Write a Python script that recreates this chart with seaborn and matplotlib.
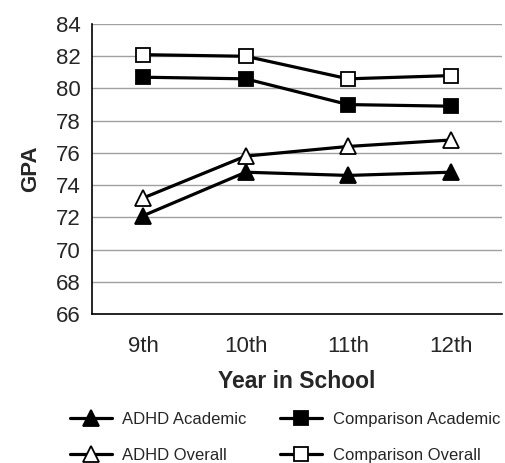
import matplotlib
matplotlib.use("Agg")
import matplotlib.pyplot as plt
import pandas as pd
import seaborn as sns
from matplotlib.ticker import FixedLocator

years = ["9th", "10th", "11th", "12th"]
adhd_academic = [72.1, 74.8, 74.6, 74.8]
adhd_overall = [73.2, 75.8, 76.4, 76.8]
comp_academic = [80.7, 80.6, 79.0, 78.9]
comp_overall = [82.1, 82.0, 80.6, 80.8]
y_ticks = [66, 68, 70, 72, 74, 76, 78, 80, 82, 84]

# legend fills column by column: ADHD on the left, Comparison on the right
series = {
    "ADHD Academic": (adhd_academic, "^", "black"),
    "ADHD Overall": (adhd_overall, "^", "white"),
    "Comparison Academic": (comp_academic, "s", "black"),
    "Comparison Overall": (comp_overall, "s", "white"),
}

sns.set_style("white")
plt.rcParams["font.family"] = ["Liberation Sans", "DejaVu Sans"]

fig = plt.figure(figsize=(5.05, 4.63), dpi=100)
ax = fig.add_axes([0.182, 0.322, 0.812, 0.626])

for name, (vals, mk, fc) in series.items():
    df = pd.DataFrame({"x": range(len(years)), "gpa": vals})
    sns.lineplot(data=df, x="x", y="gpa", ax=ax, color="black", lw=2.3,
                 marker=mk, markersize=11 if mk == "^" else 10.5,
                 markerfacecolor=fc, markeredgecolor="black",
                 markeredgewidth=1.3, label=name, legend=False)

ax.set_xlim(-0.5, 3.5)
ax.set_ylim(66, 84)
ax.set_yticks(y_ticks)
ax.set_xticks(range(len(years)))
ax.set_xticklabels(years)
ax.xaxis.set_minor_locator(FixedLocator([-0.5, 0.5, 1.5, 2.5, 3.5]))
ax.tick_params(axis="x", which="major", length=0, pad=16, labelsize=16)
ax.tick_params(axis="x", which="minor", length=6, width=1.2, color="black", direction="out")
ax.tick_params(axis="y", length=6, width=1.2, color="black", direction="out", labelsize=16, pad=2)
ax.yaxis.grid(True, color="#a0a0a0", lw=1)
ax.set_axisbelow(True)
sns.despine(ax=ax)
for s in ["left", "bottom"]:
    ax.spines[s].set_color("black")
    ax.spines[s].set_linewidth(1.2)

ax.set_xlabel("Year in School", fontsize=16.5, fontweight="bold", labelpad=9)
ax.set_ylabel("GPA", fontsize=16, fontweight="bold", labelpad=11)

handles, labels = ax.get_legend_handles_labels()
fig.legend(handles, labels, loc="upper left", bbox_to_anchor=(70 / 505, 0.111),
           ncol=2, frameon=False, fontsize=12, handlelength=2.5,
           handletextpad=0.65, columnspacing=2.0, labelspacing=1.3,
           borderpad=0, borderaxespad=0)

fig.savefig("out.png", dpi=100)
